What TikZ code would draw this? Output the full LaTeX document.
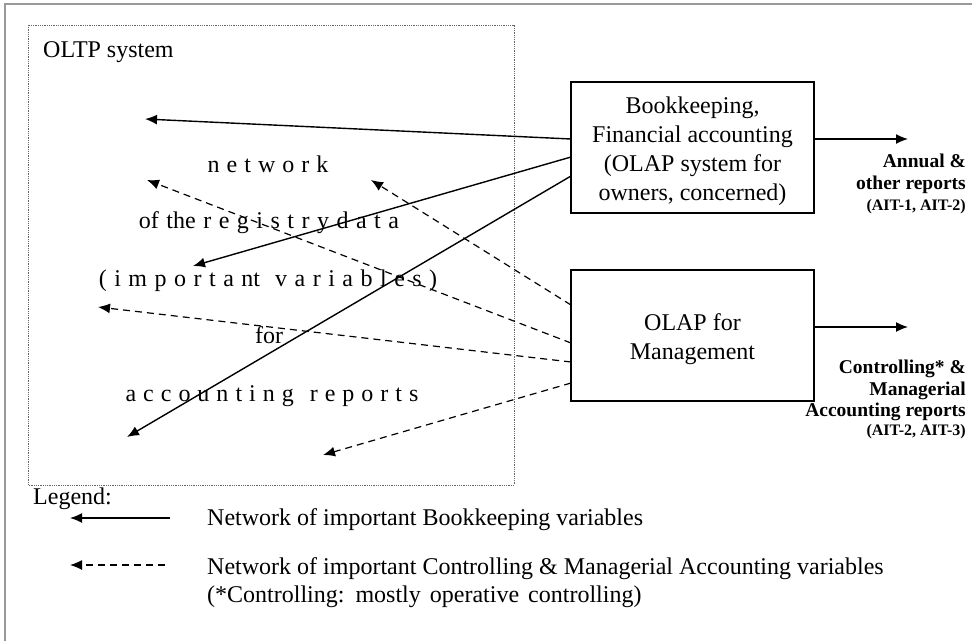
\documentclass[tikz,border=0pt]{standalone}
\usepackage{fontspec}
\setmainfont{Liberation Serif}
\usetikzlibrary{arrows.meta}
\begin{document}
\begin{tikzpicture}[x=1pt,y=-1pt,
  box/.style={draw=black,line width=1.6pt,minimum width=243pt,minimum height=131pt,align=center,font=\fontsize{24}{29}\selectfont,inner sep=0pt},
  solidarrow/.style={line width=1.4pt,-{Latex[length=12pt,width=10pt]}},
  dasharrow/.style={line width=1.2pt,dash pattern=on 7pt off 5pt,-{Latex[length=12pt,width=10pt]}},
  big/.style={font=\fontsize{24}{29}\selectfont,inner sep=0pt},
  leg/.style={font=\fontsize{24}{29}\selectfont,inner sep=0pt,anchor=base west},
  rep/.style={font=\bfseries\fontsize{19.5}{21}\selectfont,inner sep=0pt,anchor=base east},
  ait/.style={font=\bfseries\fontsize{16}{18}\selectfont,inner sep=0pt,anchor=base east},
  ]
\useasboundingbox (0,0) rectangle (972,641);
\fill[white] (0,0) rectangle (972,641);
\draw[black!40,line width=2pt] (5,641) -- (5,4) -- (972,4);
\draw[black!60,densely dotted,line width=0.8pt] (28,25) rectangle (514,485);
\node[big,anchor=base west] (oltp) at (43,57) {OLTP system};

% central letter-spaced text
\node[big,anchor=base] (t1) at (268,172) {\spaceskip=7pt n e t w o r k};
\node[big,anchor=base] (t2) at (269,228) {\spaceskip=7.5pt of the r e g i s t r y d a t a};
\node[big,anchor=base] (t3) at (268,286) {\spaceskip=7.5pt ( i m p o r t a nt\hspace{15pt}v a r i a b l e s )};
\node[big,anchor=base] (t4) at (269,343) {for};
\node[big,anchor=base] (t5) at (272,401) {\spaceskip=7pt a c c o u n t i n g\hspace{16pt}r e p o r t s};

% boxes
\node[box] (b1) at (692.5,147.5) {\rule{0pt}{24.5pt}Bookkeeping,\\Financial accounting\\(OLAP system for\\owners, concerned)};
\node[box] (b2) at (692.5,335.5) {\rule{0pt}{24pt}OLAP for\\Management};

% start points on box edges
\coordinate (s1) at (571,139);
\coordinate (s2) at (571,157);
\coordinate (s3) at (571,176);
\coordinate (d1) at (571,305);
\coordinate (d2) at (571,343);
\coordinate (d3) at (571,362);
\coordinate (d4) at (571,383);
% tips
\coordinate (e1) at (145,119);
\coordinate (e2) at (193,266);
\coordinate (e3) at (127,437);
\coordinate (f1) at (371,180);
\coordinate (f2) at (147,180);
\coordinate (f3) at (98,307);
\coordinate (f4) at (323,455);

\draw[solidarrow] (s1) -- (e1);
\draw[solidarrow] (s2) -- (e2);
\draw[solidarrow] (s3) -- (e3);
\draw[dasharrow] (d1) -- (f1);
\draw[dasharrow] (d2) -- (f2);
\draw[dasharrow] (d3) -- (f3);
\draw[dasharrow] (d4) -- (f4);

% outputs
\coordinate (o1) at (814,139);
\coordinate (r1) at (908,139);
\coordinate (o2) at (814,327);
\coordinate (r2) at (908,327);
\draw[solidarrow] (o1) -- (r1);
\draw[solidarrow] (o2) -- (r2);

\node[rep] (a1) at (966,167) {Annual \&};
\node[rep] (a2) at (966,189) {other reports};
\node[ait] (a3) at (966,210) {(AIT-1,\ AIT-2)};

\node[rep] (c1) at (966,373) {Controlling* \&};
\node[rep] (c2) at (966,395) {Managerial};
\node[rep] (c3) at (966,416) {Accounting reports};
\node[ait] (c4) at (966,435) {(AIT-2,\ AIT-3)};

% legend
\node[leg] (lg) at (33,504) {Legend:};
\coordinate (l1s) at (170,518);
\coordinate (l1e) at (70,518);
\coordinate (l2s) at (165,565);
\coordinate (l2e) at (70,565);
\draw[solidarrow] (l1s) -- (l1e);
\draw[dasharrow] (l2s) -- (l2e);
\node[leg] (lt1) at (207,525) {Network of important Bookkeeping variables};
\node[leg] (lt2) at (207,574) {Network of important Controlling \& Managerial Accounting variables};
\node[leg] (lt3) at (207,602) {\spaceskip=9pt (*Controlling: mostly operative controlling)};
\end{tikzpicture}
\end{document}
